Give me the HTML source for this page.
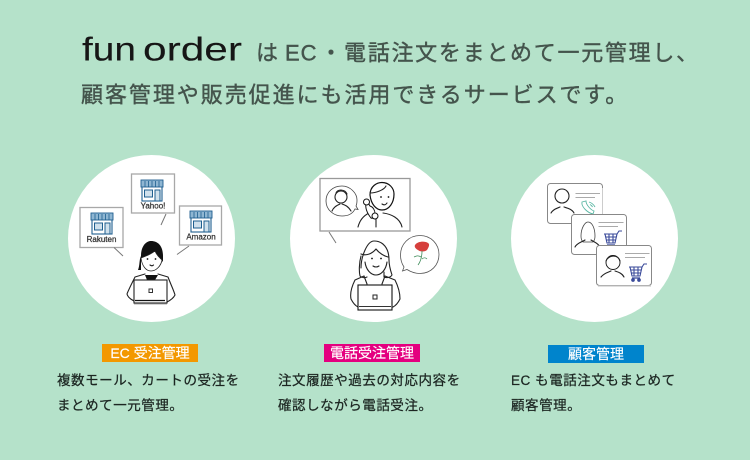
<!DOCTYPE html>
<html lang="ja"><head><meta charset="utf-8"><title>fun order</title>
<style>
html,body{margin:0;padding:0;background:#b5e2ca}
svg{display:block}
text{font-family:"Liberation Sans","Noto Sans CJK JP",sans-serif}
.logo{font-size:33px;fill:#161616;stroke:#161616;stroke-width:.1}
.h{font-size:22px;fill:#44544c;stroke:#44544c;stroke-width:.4}
.b{font-size:13.5px;fill:#1c2622;stroke:#1c2622;stroke-width:.25;letter-spacing:.55px}
.t{font-size:14px;fill:#fff;stroke:#fff;stroke-width:.15;text-anchor:middle}
.s{font-size:8px;fill:#333;font-weight:400;stroke:#333;stroke-width:.25;text-anchor:middle}
.l{fill:none;stroke:#222;stroke-width:1.1;stroke-linecap:round;stroke-linejoin:round}
.g{fill:#fff;stroke:#a8a8a8;stroke-width:1.3}
</style></head><body>
<svg width="750" height="460" viewBox="0 0 750 460" xmlns="http://www.w3.org/2000/svg">
<defs>
<g id="shop"><rect x="1" y="2" width="20" height="20" fill="#fff" stroke="#1f5f8f" stroke-width="1.1"/><rect x="0" y="1" width="22" height="7" fill="#8fb6d2" stroke="#1f5f8f" stroke-width=".9"/><path d="M4 2v6M7.500 2v6M11 2v6M14.500 2v6M18 2v6" stroke="#1f5f8f" stroke-width=".8"/><rect x="3.500" y="11" width="8" height="7" fill="#cfe0ec" stroke="#1f5f8f"/><rect x="14" y="11" width="5" height="11" fill="#cfe0ec" stroke="#1f5f8f"/></g>
<g id="cart" fill="none" stroke="#3a4a9a" stroke-width="1.1"><path d="M0 3H13L15 0H18"/><path d="M1 3L3 12H11L13 3M1.500 6H12.500M2 9H12M5 3V12M9 3V12"/><path d="M3 14H11" stroke-width="1.300"/><circle cx="4" cy="16" r="1.300" fill="#3a4a9a"/><circle cx="10" cy="16" r="1.300" fill="#3a4a9a"/></g>
</defs>
<rect width="750" height="460" fill="#b5e2ca"/>

<text x="82" y="60.500" class="logo" textLength="54" lengthAdjust="spacingAndGlyphs">fun</text>
<text x="143" y="60.500" class="logo" textLength="99" lengthAdjust="spacingAndGlyphs">order</text>
<text y="60.500" class="h"><tspan x="256">は</tspan><tspan x="285" letter-spacing="1">EC</tspan><tspan x="320">・</tspan><tspan x="344" letter-spacing="1.72">電話注文をまとめて一元管理し、</tspan></text>
<text x="81" y="102.500" class="h" letter-spacing="1.95">顧客管理や販売促進にも活用できるサービスです。</text>

<circle cx="151.500" cy="238.500" r="83.500" fill="#fff"/>
<circle cx="373.500" cy="238.500" r="83.500" fill="#fff"/>
<circle cx="594.500" cy="238.500" r="83.500" fill="#fff"/>

<!-- left -->
<rect x="80" y="207.500" width="43" height="40" class="g"/>
<rect x="131.500" y="174" width="43" height="39" class="g"/>
<rect x="179.500" y="206" width="42" height="39" class="g"/>
<use href="#shop" x="91" y="212"/><use href="#shop" x="141" y="179"/><use href="#shop" x="190" y="210"/>
<text x="101.500" y="242" class="s">Rakuten</text><text x="153" y="208.500" class="s">Yahoo!</text><text x="201" y="239.500" class="s">Amazon</text>
<path d="M114 247.500L123 256M166 214L161 225M189 246L177 254.500" stroke="#777" fill="none"/>
<path d="M141 256C141 245 147 241 151 241C158 241 163 246 163 256V262C160 258 157 256 155 251C150 255 146 256 141 258V270H138C140 265 139 260 141 256Z" fill="#111"/>
<path d="M141 258C146 256 150 255 155 251C157 256 160 258 162 260C161 266 156 271 151 271C146 271 142 266 141 258Z" fill="#fff" stroke="#222" stroke-width=".8"/>
<circle cx="147.500" cy="259" r=".9" fill="#111"/><circle cx="155.500" cy="259" r=".9" fill="#111"/><path d="M150 265Q152 266.500 153.500 265" class="l"/>
<path d="M145 274L135 277C131 285 128 291 127 294C128 298 133 301 137 302M158 274L168 277C171 285 174 291 175 295C173 299 169 301 167 302" class="l"/>
<path d="M145 275H158L155 280H147Z" fill="#111"/>
<rect x="134" y="280" width="33" height="23" fill="#fff" stroke="#222" stroke-width="1.100"/>
<path d="M135 300.500H165" stroke="#111" stroke-width="1.300"/><rect x="149" y="289" width="3.500" height="3.500" fill="#fff" stroke="#333"/>
<path d="M134 304H167" stroke="#aaa"/>

<!-- middle -->
<rect x="320" y="178.500" width="90" height="52.500" fill="#fff" stroke="#999" stroke-width="1.300"/>
<path d="M329 232L336 243" stroke="#777" fill="none"/>
<path d="M342 186C333 186 326 192 326 201C326 210 334 216 342 216C349 216 353 213 355 209L358 209.500L356 206C357 204 357 202 357 200C357 193 350 186 342 186Z" fill="#fff" stroke="#444" stroke-width=".8"/>
<circle cx="341" cy="197" r="6" class="l" stroke-width=".8"/><path d="M336 193C338 189 345 189 347 194M332 211C334 206 338 205 340 204M342 204C345 205 348 206 351 211" class="l" stroke-width=".8"/>
<path d="M370 195C370 186 377 182.500 382 182.500C389 182.500 394 188 394 194C394 203 389 210 382 210C376 210 371 204 370 195Z" fill="#fff" stroke="#111" stroke-width="1.200"/>
<path d="M370 193C376 193 384 190 386 186" class="l"/><circle cx="381" cy="197" r=".9" fill="#111"/><circle cx="388.500" cy="197" r=".9" fill="#111"/><path d="M382 204Q385 206 387 203" class="l"/>
<path d="M358 227C360 219 365 215 369 213M383 213C391 214 400 218 402 227M376 216V227M375 215V219" class="l"/>
<path d="M366 203C365 208 367 213 371 218C373 219 375 217 375 214C375 210 373 207 370 206C368 204 369 201 368 200Z" fill="#fff" stroke="#111"/>
<circle cx="366.500" cy="202" r="3" fill="#fff" stroke="#111"/><circle cx="375" cy="216" r="3" fill="#fff" stroke="#111"/>
<path d="M361 268C361 257 367 241 374 241C383 241 389 248 389 260C389 266 391 272 392 275C390 278 386 278 384 277V272M361 254C366 256 372 254 376 249C379 253 384 256 388 257M361 256C359 263 359 272 360 276C362 278 365 278 367 277" class="l"/>
<circle cx="372" cy="258.500" r=".9" fill="#111"/><circle cx="381" cy="258.500" r=".9" fill="#111"/><path d="M373 266Q376 268 379 266M365 262C366 270 371 275 376 275C381 275 386 270 387 262" class="l"/>
<path d="M364 276L355 280C351 288 350 294 351 299C353 303 356 306 358 307M385 276L395 280C399 288 400 295 400 299C398 303 395 306 393 307M364 276L367 284M385 276L382 284" class="l"/>
<rect x="358" y="285" width="34" height="25" fill="#fff" stroke="#111" stroke-width="1.100"/>
<path d="M359 306.500H391" stroke="#333" stroke-width="1.100"/><rect x="373" y="295" width="4" height="4" fill="#fff" stroke="#222"/>
<path d="M420 235.500C409 235.500 400.500 244 400.500 255C400.500 260 402 264 404 267L402.500 271L407 269.500C411 272 415 273.500 420 273.500C431 273.500 439 265 439 254.500C439 244 431 235.500 420 235.500Z" fill="#fff" stroke="#555" stroke-width=".8"/>
<path d="M415 245C418 241 425 241 428 243C430 244 429 247 427 250C425 252 420 252 418 250C416 249 414 247 415 245Z" fill="#d63f3c"/>
<path d="M422 251C422 256 421 261 418 265M421 257C418 255 416 256 414 257M422 259C424 257 426 258 427 259" stroke="#3f8c5a" fill="none" stroke-width=".8"/>

<!-- right -->
<rect x="547.500" y="183.500" width="55" height="40" rx="3" fill="#fff" stroke="#888"/>
<path d="M602.500 188V221" stroke="#ccc"/>
<path d="M575.500 193.500H600M575.500 197.500H595" stroke="#aaa" stroke-width="1"/>
<circle cx="562" cy="196" r="7" class="l" stroke-width=".8"/><path d="M551 213C553 209 558 208 560 207M564 207C567 208 572 209 574 213" class="l" stroke-width=".8"/>
<path d="M582 202L586 201C586 205 591 210 594 211L593 214C588 213 581 207 582 202ZM589 202C592 203 594 205 595 207M590 204.500C591 205 592 206 592.500 207" fill="#fff" stroke="#5bb7a4" stroke-width=".9"/>
<rect x="571.500" y="214.500" width="55" height="40" rx="3" fill="#fff" stroke="#888"/>
<path d="M598.500 222.500H623.500M598.500 226.500H618" stroke="#aaa"/>
<path d="M581 236C581 228 585 222 588 222C592 222 595 228 595 236C595 239 594 241 593 242H583C582 241 581 239 581 236Z" fill="#fff" stroke="#444" stroke-width=".8"/>
<path d="M575 247C577 243 582 242 585 240M591 240C594 242 598 243 600 247" class="l" stroke-width=".8"/>
<use href="#cart" x="604" y="231"/>
<rect x="596.500" y="245.500" width="55" height="40" rx="3" fill="#fff" stroke="#888"/>
<path d="M598 286H651" stroke="#ccc" stroke-width="1.200"/>
<path d="M625 253.500H649.500M625 257.500H645" stroke="#aaa" stroke-width="1.100"/>
<circle cx="613" cy="262.500" r="7" fill="#fff" stroke="#111" stroke-width=".9"/><path d="M606 261C608 255 618 254 620 261" class="l"/>
<path d="M601 277C604 273 609 272 611 271M615 271C618 272 622 273 624 277" class="l"/>
<use href="#cart" x="629" y="264"/>

<!-- labels -->
<rect x="102" y="344" width="96" height="18" fill="#f39800"/>
<rect x="324" y="344" width="96" height="18" fill="#e4007f"/>
<rect x="548" y="345" width="96" height="18" fill="#0084cc"/>
<text x="150" y="358" class="t">EC 受注管理</text>
<text x="372" y="358" class="t">電話受注管理</text>
<text x="596" y="359" class="t">顧客管理</text>

<text x="57" y="385" class="b">複数モール、カートの受注を</text>
<text x="57" y="410" class="b">まとめて一元管理。</text>
<text x="278" y="385" class="b">注文履歴や過去の対応内容を</text>
<text x="278" y="410" class="b">確認しながら電話受注。</text>
<text x="511" y="385" class="b">EC も電話注文もまとめて</text>
<text x="511" y="410" class="b">顧客管理。</text>
</svg>
</body></html>
